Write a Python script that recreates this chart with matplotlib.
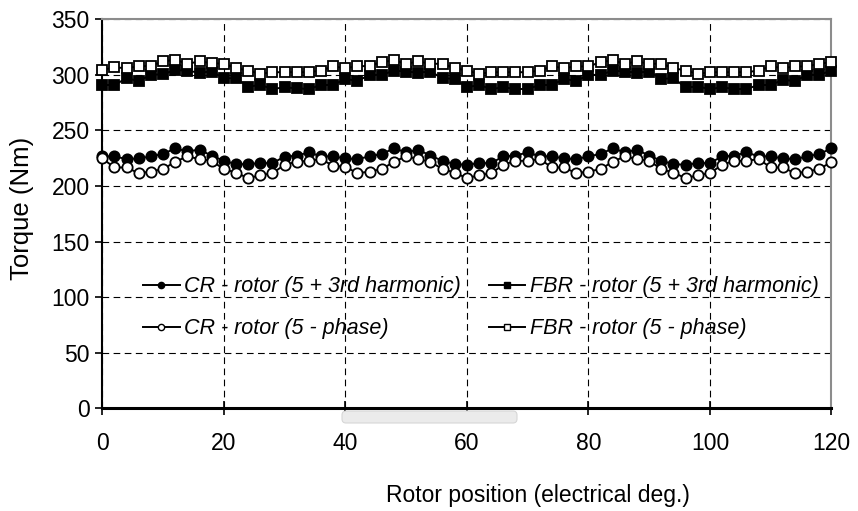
import matplotlib
matplotlib.use("Agg")
import matplotlib.pyplot as plt
from matplotlib.patches import FancyBboxPatch

plt.rcParams['font.family'] = ['Liberation Sans', 'DejaVu Sans']

# Rotor position (electrical deg.), every 2 degrees
position = list(range(0, 121, 2))

cr_3rd = [226.7, 226.7, 224.2, 224.8, 226.7, 228.8, 233.9, 231.2, 232.7, 227.3,
          222.7, 219.7, 219.7, 220.6, 220.6, 226.4, 227.3, 230.3, 226.7, 226.7,
          224.8, 224.2, 226.7, 228.8, 233.9, 230.3, 232.7, 227.3, 222.7, 219.7,
          219.1, 220.6, 220.6, 226.7, 227.3, 230.3, 226.7, 226.7, 224.8, 224.2,
          226.7, 228.8, 233.9, 230.3, 232.7, 227.3, 222.7, 219.7, 219.1, 220.6,
          220.6, 226.7, 227.3, 230.3, 226.7, 226.7, 224.8, 224.2, 226.7, 228.8,
          233.9]

cr_5ph = [224.8, 216.7, 216.7, 211.5, 213.0, 215.2, 221.8, 226.7, 224.2, 222.7,
          215.2, 212.1, 207.0, 209.7, 211.5, 219.1, 221.8, 222.7, 224.2, 218.2,
          217.3, 211.5, 213.0, 215.2, 221.8, 226.7, 224.2, 221.8, 215.2, 212.1,
          207.0, 209.7, 211.5, 219.1, 222.7, 222.7, 224.2, 216.7, 216.7, 211.5,
          213.0, 215.2, 221.8, 226.7, 224.2, 222.7, 215.2, 212.1, 207.0, 209.7,
          211.5, 219.1, 222.7, 222.7, 224.2, 216.7, 216.7, 211.5, 213.0, 215.2,
          221.8]

fbr_3rd = [290.9, 290.9, 297.0, 294.5, 300.0, 300.6, 304.5, 303.6, 302.1, 303.0,
           297.0, 297.0, 289.4, 290.9, 287.3, 288.8, 287.9, 287.3, 290.9, 290.9,
           296.4, 294.5, 300.0, 300.0, 303.9, 303.0, 302.1, 303.0, 297.0, 296.4,
           288.8, 290.9, 287.3, 288.8, 287.3, 287.3, 290.9, 290.9, 296.4, 294.5,
           300.0, 300.0, 303.9, 303.0, 302.1, 303.0, 296.4, 297.0, 288.8, 289.4,
           287.3, 288.8, 287.3, 287.3, 290.9, 290.9, 295.5, 294.5, 300.0, 300.0,
           303.9]

fbr_5ph = [304.5, 306.7, 306.1, 307.6, 308.2, 312.1, 313.6, 310.0, 312.1, 310.6,
           310.0, 306.1, 303.9, 300.9, 302.4, 302.4, 302.4, 302.4, 303.9, 307.6,
           306.1, 307.6, 308.2, 311.5, 313.0, 310.0, 312.1, 310.0, 310.0, 306.1,
           303.9, 300.9, 302.4, 302.4, 302.4, 302.4, 303.9, 307.6, 306.1, 307.6,
           307.6, 311.5, 313.0, 310.0, 312.1, 310.0, 310.0, 306.1, 303.9, 300.9,
           302.4, 302.4, 302.4, 302.4, 303.9, 307.6, 306.1, 307.6, 307.6, 310.0,
           311.5]

label_cr_3rd = "CR - rotor (5 + 3rd harmonic)"
label_fbr_3rd = "FBR - rotor (5 + 3rd harmonic)"
label_cr_5ph = "CR - rotor (5 - phase)"
label_fbr_5ph = "FBR - rotor (5 - phase)"

xticks = [0, 20, 40, 60, 80, 100, 120]
yticks = [0, 50, 100, 150, 200, 250, 300, 350]

fig = plt.figure(figsize=(8.58, 5.11), dpi=100)
ax = fig.add_axes([0.1192, 0.2010, 0.8499, 0.7612])

common = dict(color='black', linewidth=1.4, markersize=7.4, markeredgewidth=1.3,
              markeredgecolor='black', clip_on=False, zorder=3)
l1, = ax.plot(position, cr_3rd, marker='o', markerfacecolor='black', **common)
l2, = ax.plot(position, fbr_3rd, marker='s', markerfacecolor='black', **common)
l3, = ax.plot(position, cr_5ph, marker='o', markerfacecolor='white', **common)
l4, = ax.plot(position, fbr_5ph, marker='s', markerfacecolor='white', **common)

ax.set_xlim(0, 120)
ax.set_ylim(0, 350)
ax.set_xticks(xticks)
ax.set_yticks(yticks)
ax.grid(True, color='black', linestyle=(0, (6, 4)), linewidth=0.8)
ax.set_axisbelow(True)

for s in ['top', 'right']:
    ax.spines[s].set_color('#8c8c8c')
    ax.spines[s].set_linewidth(1.5)
ax.spines['left'].set_linewidth(1.5)
ax.spines['bottom'].set_linewidth(2.2)
ax.spines['left'].set_color('black')
ax.spines['bottom'].set_color('black')

ax.tick_params(axis='y', direction='out', length=5, width=1.2, labelsize=16.5, pad=4)
ax.tick_params(axis='x', direction='inout', length=10, width=1.2, labelsize=16.5, pad=12)

ax.set_ylabel("Torque (Nm)", fontsize=18.5)
ax.yaxis.set_label_coords(-0.110, 0.515)
ax.yaxis.label.set_va('center')
ax.set_xlabel("Rotor position (electrical deg.)", fontsize=16.5)
ax.xaxis.set_label_coords(0.5975, -0.223)
ax.xaxis.label.set_va('center')

# legend fills column-wise: column 1 = CR, column 2 = FBR
leg = ax.legend([l1, l3, l2, l4],
                [label_cr_3rd, label_cr_5ph, label_fbr_3rd, label_fbr_5ph],
                ncol=2, loc='center left',
                bbox_to_anchor=(0.0558, 0.2585), frameon=False,
                prop={'style': 'italic', 'size': 15.5}, borderpad=0,
                borderaxespad=0, handlelength=1.7, handletextpad=0.2,
                columnspacing=1.3, labelspacing=0.98)
for h in leg.legend_handles:
    h.set_markersize(4.5)
    h.set_markeredgewidth(1.0)

# faint watermark box just below the axis
box = FancyBboxPatch((342, 88), 175, 12, boxstyle="round,pad=0,rounding_size=4",
                     transform=None, facecolor='#ebebeb', edgecolor='#d6d6d6',
                     linewidth=0.8, zorder=0)
fig.patches.append(box)

fig.savefig("out.png", dpi=100)
